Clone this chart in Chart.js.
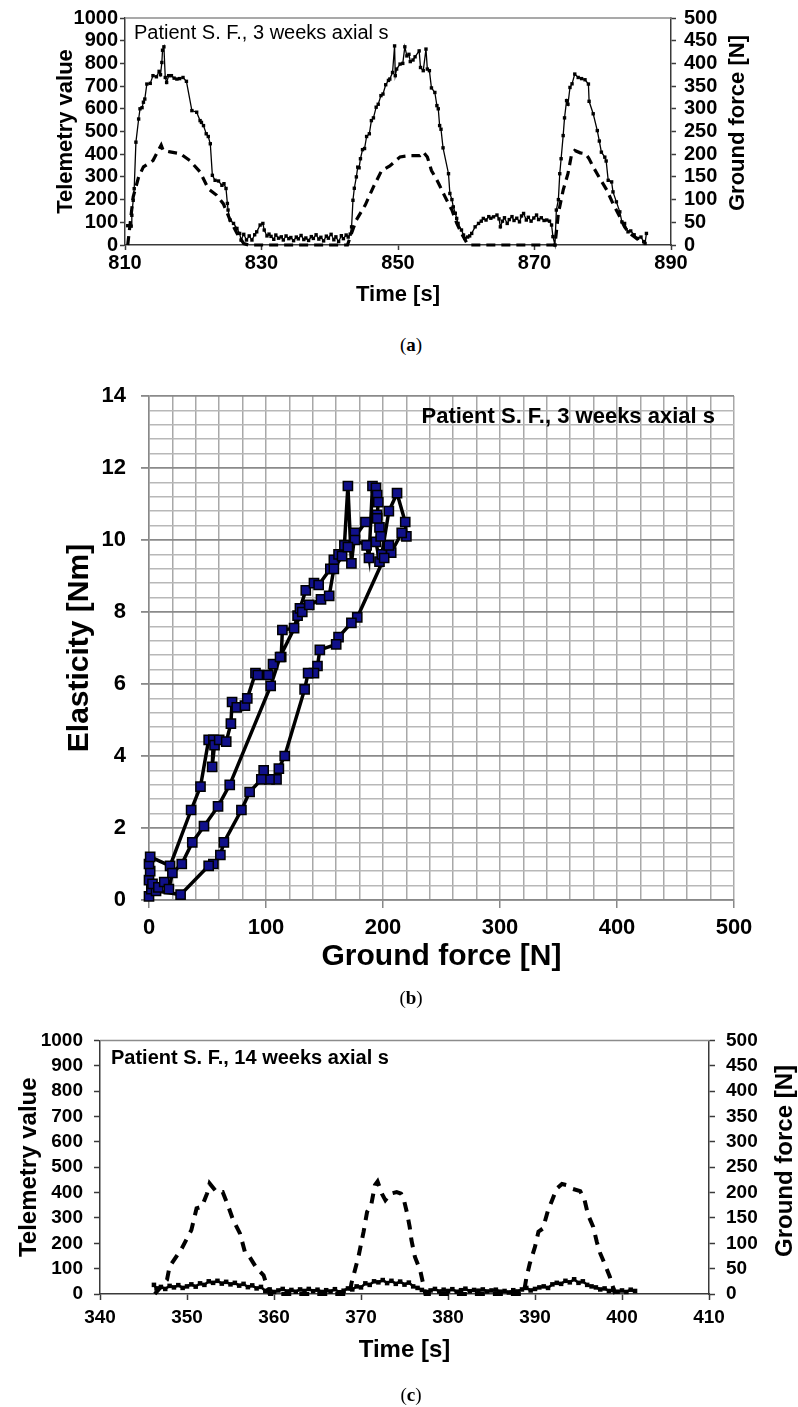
<!DOCTYPE html>
<html>
<head>
<meta charset="utf-8">
<script src="https://cdn.jsdelivr.net/npm/chart.js@4.4.1/dist/chart.umd.min.js"></script>
<style>
  body { margin: 0; background: #fff; width: 798px; height: 1407px; position: relative; overflow: hidden; }
  canvas { position: absolute; left: 0; }
  .cap { position: absolute; left: 12px; width: 798px; text-align: center; font-family: 'Liberation Serif', 'DejaVu Serif', serif; font-size: 19px; line-height: 22px; }
</style>
</head>
<body>
<canvas id="chartA" width="798" height="320" style="top:0px"></canvas>
<div class="cap" style="top:334px">(<b>a</b>)</div>
<canvas id="chartB" width="798" height="620" style="top:370px"></canvas>
<div class="cap" style="top:987px">(<b>b</b>)</div>
<canvas id="chartC" width="798" height="360" style="top:1020px"></canvas>
<div class="cap" style="top:1384px">(<b>c</b>)</div>
<script>
// --- (a) 3 weeks: [time s, telemetry value] and [time s, ground force N]
const telemetryA = [
  [810.4, 85], [810.9, 83], [811.0, 131], [811.2, 197], [811.35, 248], [811.6, 453], [812.0, 555], [812.2, 600],
  [812.5, 605], [812.7, 629], [812.9, 643], [813.2, 709], [813.7, 712], [814.1, 746], [814.6, 741], [815.0, 765],
  [815.2, 750], [815.4, 804], [815.5, 858], [815.7, 873], [815.9, 738], [816.1, 716], [816.4, 746], [816.8, 746],
  [817.2, 735], [817.6, 731], [818.0, 733], [818.5, 738], [819.0, 721], [819.8, 592], [820.5, 585], [821.0, 548],
  [821.2, 540], [821.5, 526], [821.9, 490], [822.2, 478], [822.5, 446], [822.8, 307], [823.2, 285], [823.7, 282],
  [824.2, 263], [824.5, 270], [824.8, 249], [825.0, 183], [825.1, 154], [825.4, 110], [825.9, 95], [826.4, 73],
  [826.8, 51], [827.0, 22], [827.4, 47], [827.8, 22], [828.2, 40], [828.6, 22], [829.0, 45], [829.3, 58],
  [829.8, 88], [830.2, 95], [830.4, 66], [830.8, 40], [831.1, 48],
  [831.4, 38], [831.8, 25], [832.1, 44], [832.5, 30], [832.9, 36], [833.2, 22], [833.6, 40], [834.0, 28],
  [834.3, 33], [834.7, 19], [835.1, 35], [835.4, 27], [835.8, 42], [836.2, 24], [836.5, 31], [836.9, 20],
  [837.3, 37], [837.6, 29], [838.0, 45], [838.4, 26], [838.7, 34], [839.1, 18], [839.5, 39], [839.8, 30],
  [840.2, 47], [840.6, 23], [840.9, 36], [841.3, 15], [841.7, 41], [842.0, 28], [842.4, 44], [842.7, 35], [843.0, 48],
  [843.2, 80], [843.4, 197], [843.6, 250], [843.9, 300], [844.1, 343], [844.3, 340], [844.5, 380], [844.8, 420],
  [845.1, 425], [845.4, 478], [845.8, 490], [846.1, 548], [846.4, 560], [846.8, 607], [847.1, 620], [847.5, 658],
  [847.8, 665], [848.2, 706], [848.6, 725], [848.8, 731], [849.2, 760], [849.5, 877], [849.6, 746], [849.8, 775],
  [850.3, 797], [850.7, 800], [851.0, 873], [851.3, 833], [851.6, 840], [851.8, 808], [852.2, 815], [852.5, 829],
  [853.1, 855], [853.3, 782], [853.7, 768], [854.1, 863], [854.3, 775], [854.6, 768], [854.9, 692], [855.4, 672],
  [855.7, 614], [855.9, 600], [856.1, 526], [856.3, 510], [856.6, 428], [857.4, 314], [857.6, 227], [857.9, 200],
  [858.1, 168], [858.4, 140], [858.6, 117], [858.8, 95], [859.3, 66], [859.6, 44], [859.8, 29], [860.2, 35],
  [860.5, 40], [860.8, 51], [861.3, 80], [861.8, 95], [862.2, 105], [862.5, 117], [862.9, 110], [863.3, 125],
  [863.6, 118], [864.0, 124], [864.5, 132], [864.8, 115], [865.0, 80], [865.3, 105], [865.6, 120], [866.0, 95],
  [866.3, 112], [866.7, 125], [867.0, 108], [867.4, 118], [867.8, 102], [868.1, 128], [868.4, 139], [868.8, 110],
  [869.1, 122], [869.5, 105], [869.9, 119], [870.3, 132], [870.6, 112], [871.0, 120], [871.4, 108], [871.8, 110],
  [872.2, 105], [872.5, 88], [872.7, 37], [873.0, 0], [873.2, 154], [873.5, 200], [873.7, 314], [873.9, 380],
  [874.2, 482], [874.4, 560], [874.7, 636], [874.9, 620], [875.2, 694], [875.5, 710], [875.9, 753], [876.4, 738],
  [876.9, 733], [877.4, 728], [877.9, 709], [878.0, 633], [878.6, 578], [879.2, 504], [879.5, 458], [879.8, 409],
  [880.3, 387], [880.5, 370], [880.8, 285], [881.3, 278], [881.5, 234], [882.0, 190], [882.5, 146], [882.8, 102],
  [883.2, 95], [883.7, 58], [884.1, 62], [884.6, 45], [885.1, 29], [885.6, 35], [886.0, 15], [886.2, 7], [886.4, 51]
];
const forceA = [
  [810.4, 0], [810.7, 40], [811.2, 106], [812.0, 150], [812.7, 172], [814.1, 186], [815.3, 220], [815.6, 208],
  [816.6, 205], [818.1, 201], [819.5, 186], [821.0, 161], [822.2, 124], [823.4, 110], [824.4, 91], [825.4, 55],
  [826.4, 26], [827.4, 3], [828.1, 0], [842.6, 0], [843.0, 18], [843.9, 55], [845.2, 88], [846.4, 128],
  [847.6, 164], [848.8, 174], [850.3, 194], [851.8, 197], [853.2, 197], [853.7, 205], [854.3, 194], [854.9, 164],
  [855.7, 143], [856.1, 131], [856.9, 106], [857.4, 91], [857.9, 77], [858.6, 48], [859.3, 26], [860.1, 4],
  [860.5, 0], [873.0, 0], [873.5, 70], [874.2, 121], [874.9, 157], [875.4, 197], [875.9, 208], [876.7, 203],
  [877.5, 201], [878.0, 190], [878.6, 172], [879.6, 146], [880.6, 121], [881.5, 91], [882.5, 62], [883.2, 40],
  [883.9, 26], [884.9, 15], [886.0, 4]
];
const timeRangeA = [810, 890];

// --- (b) elasticity vs ground force: [force N, elasticity Nm], in recording order
const elasticityB = [
  [0, 0.1], [2, 0.3], [0, 0.55], [1, 0.8], [0, 1.0], [1, 1.2], [18, 0.95], [36, 2.5], [44, 3.15], [51, 4.45],
  [55, 4.45], [54, 3.7], [56, 4.3], [60, 4.45], [66, 4.4], [70, 4.9], [71, 5.5], [75, 5.35], [82, 5.4], [84, 5.6],
  [91, 6.3], [93, 6.25], [102, 6.25], [106, 6.55], [113, 6.75], [114, 7.5], [124, 7.55], [127, 7.9], [129, 8.1],
  [134, 8.6], [141, 8.8], [145, 8.75], [155, 9.2], [158, 9.45], [162, 9.6], [167, 9.85], [170, 11.5], [173, 9.35],
  [176, 10.2], [176, 10.0], [186, 9.85], [188, 9.5], [191, 11.5], [194, 11.45], [195, 11.25], [196, 11.05],
  [195, 10.7], [197, 10.35], [194, 9.95], [197, 9.4], [199, 9.6], [205, 10.8], [212, 11.3], [219, 10.5],
  [220, 10.1], [216, 10.2], [207, 9.65], [205, 9.85], [201, 9.5],
  [178, 7.85], [173, 7.7], [162, 7.3], [160, 7.1], [146, 6.95], [144, 6.5], [141, 6.3], [136, 6.3], [133, 5.85],
  [116, 4.0], [111, 3.65], [109, 3.35], [103, 3.35], [98, 3.6], [96, 3.35], [86, 3.0], [79, 2.5], [64, 1.6],
  [61, 1.25], [55, 1.0], [51, 0.95], [27, 0.15], [6, 0.25],
  [3, 0.45], [8, 0.35], [13, 0.5], [17, 0.3], [20, 0.75], [28, 1.0], [37, 1.6], [47, 2.05], [59, 2.6], [69, 3.2],
  [104, 5.95], [112, 6.75], [131, 8.0], [137, 8.2], [147, 8.35], [154, 8.45], [158, 9.2], [165, 9.55], [170, 9.8],
  [185, 10.5], [195, 10.6], [198, 10.1]
];

// --- (c) 14 weeks: [time s, telemetry value] and [time s, ground force N]
const telemetryC = [
  [346.2, 36], [346.5, 22], [347.0, 28], [347.5, 20], [348.0, 32], [348.5, 26], [349.0, 35], [349.5, 24],
  [350.0, 30], [350.5, 38], [351.0, 29], [351.5, 42], [352.0, 36], [352.5, 50], [353.0, 44], [353.5, 52],
  [354.0, 41], [354.5, 48], [355.0, 38], [355.5, 44], [356.0, 33], [356.5, 40], [357.0, 27], [357.5, 34],
  [358.0, 22], [358.5, 28], [359.0, 12], [359.5, 18], [360.0, 8], [360.5, 14], [361.0, 20], [361.5, 10],
  [362.0, 16], [362.5, 9], [363.0, 18], [363.5, 12], [364.0, 20], [364.5, 11], [365.0, 17], [365.5, 8],
  [366.0, 15], [366.5, 10], [367.0, 19], [367.5, 7], [368.0, 13], [368.5, 22], [369.0, 18], [369.5, 30],
  [370.0, 26], [370.5, 42], [371.0, 36], [371.5, 50], [372.0, 46], [372.5, 55], [373.0, 43], [373.5, 52],
  [374.0, 40], [374.5, 49], [375.0, 37], [375.5, 45], [376.0, 30], [376.5, 24], [377.0, 16], [377.5, 8],
  [378.0, 14], [378.5, 20], [379.0, 10], [379.5, 17], [380.0, 12], [380.5, 19], [381.0, 9], [381.5, 15],
  [382.0, 21], [382.5, 11], [383.0, 16], [383.5, 13], [384.0, 18], [384.5, 10], [385.0, 14], [385.5, 17],
  [386.0, 9], [386.5, 12], [387.0, 6], [387.5, 15], [388.0, 10], [388.5, 18], [389.0, 24], [389.5, 14],
  [390.0, 20], [390.5, 26], [391.0, 30], [391.5, 24], [392.0, 38], [392.5, 44], [393.0, 40], [393.5, 52],
  [394.0, 46], [394.5, 58], [395.0, 44], [395.5, 50], [396.0, 36], [396.5, 30], [397.0, 26], [397.5, 18],
  [398.0, 22], [398.5, 12], [399.0, 16], [399.5, 9], [400.0, 14], [400.5, 8], [401.0, 17], [401.5, 12]
];
const forceC = [
  [346.3, 0], [347.7, 28], [348.0, 54], [349.4, 90], [350.5, 126], [351.1, 169], [351.7, 172], [352.3, 198],
  [352.6, 218], [353.4, 201], [354.1, 201], [354.7, 175], [355.3, 146], [356.1, 119], [356.7, 80], [357.2, 73],
  [358.0, 51], [358.8, 37], [359.5, 0], [368.7, 0], [368.9, 21], [369.7, 73], [370.3, 123], [370.7, 162],
  [371.2, 178], [371.6, 215], [371.9, 222], [372.4, 198], [372.8, 185], [373.4, 198], [374.1, 201], [374.6, 198],
  [374.9, 188], [375.3, 159], [375.6, 132], [375.8, 106], [376.2, 73], [376.8, 47], [377.4, 0], [388.7, 0],
  [389.0, 31], [389.4, 60], [390.0, 93], [390.4, 123], [390.9, 129], [391.5, 165], [391.9, 182], [392.5, 208],
  [393.1, 217], [393.6, 215], [394.2, 208], [395.2, 203], [395.7, 185], [396.1, 156], [396.7, 132], [397.1, 103],
  [397.5, 80], [398.0, 60], [398.6, 34], [399.2, 0]
];
const timeRangeC = [340, 410];

Chart.defaults.font.family = "'Liberation Sans', Arial, sans-serif";
Chart.defaults.color = '#000';

const AX = '#3a3a3a';
const pts = arr => arr.map(p => ({ x: p[0], y: p[1] }));
const fixW = w => s => { s.width = w; };
const fixH = h => s => { s.height = h; };
const onStep = (v, s) => Math.abs(v / s - Math.round(v / s)) < 1e-6;
const plain = v => String(v);

// free text (inner titles, right axis titles reading bottom-up) + top frame line
const extraText = {
  id: 'extraText',
  afterDraw(chart, args, opts) {
    const { ctx, chartArea: a } = chart;
    ctx.save();
    if (opts.frameTop) {
      ctx.strokeStyle = opts.frameTop;
      ctx.lineWidth = 1.5;
      ctx.beginPath();
      ctx.moveTo(a.left, a.top);
      ctx.lineTo(a.right, a.top);
      ctx.stroke();
    }
    (opts.items || []).forEach(t => {
      ctx.save();
      ctx.font = t.font;
      ctx.fillStyle = '#000';
      ctx.textAlign = t.align || 'left';
      ctx.textBaseline = 'middle';
      ctx.translate(t.x, t.y);
      if (t.rot) ctx.rotate(t.rot);
      ctx.fillText(t.text, 0, 0);
      ctx.restore();
    });
    ctx.restore();
  }
};
Chart.register(extraText);

function axisY(pos, max, step, width, size, tick, pad, title) {
  return {
    position: pos, min: 0, max: max, afterFit: fixW(width),
    ticks: { stepSize: step, autoSkip: false, padding: pad, callback: plain,
      font: { size: size, weight: 'bold', lineHeight: 1 } },
    grid: { drawOnChartArea: false, tickLength: tick, tickColor: AX, tickWidth: 1.5 },
    border: { color: AX, width: 1.5 },
    title: title
  };
}

function timeChart(id, tele, force, range, o) {
  return new Chart(document.getElementById(id), {
    type: 'line',
    data: {
      datasets: [
        { data: pts(tele), yAxisID: 'y', borderColor: '#000', borderWidth: o.lineW, tension: 0,
          pointStyle: 'rect', pointRadius: o.ptR, pointBackgroundColor: '#000', pointBorderWidth: 0, clip: false },
        { data: pts(force), yAxisID: 'y2', borderColor: '#000', borderWidth: o.dashW, borderDash: o.dash,
          tension: 0, pointRadius: 0, clip: false }
      ]
    },
    options: {
      responsive: false, animation: false,
      layout: { padding: { top: o.top, left: 0, right: 0, bottom: 0 } },
      plugins: { legend: { display: false }, tooltip: { enabled: false },
        extraText: { frameTop: '#8c8c8c', items: o.items } },
      scales: {
        x: {
          type: 'linear', min: range[0], max: range[1], afterFit: fixH(o.xH),
          ticks: { stepSize: o.xStep, autoSkip: false, maxRotation: 0, padding: o.xPad, callback: plain,
            font: { size: o.tickSize, weight: 'bold', lineHeight: 1 } },
          grid: { drawOnChartArea: false, tickLength: o.tick, tickColor: AX, tickWidth: 1.5 },
          border: { color: AX, width: 1.5 },
          title: { display: true, text: 'Time [s]', font: { size: o.titleSize, weight: 'bold' },
            padding: { top: 0, bottom: o.xTitlePad } }
        },
        y: axisY('left', 1000, 100, o.left, o.tickSize, o.tick, o.yPad,
          { display: true, text: 'Telemetry value', font: { size: o.titleSize, weight: 'bold' },
            padding: { top: o.yTitlePad, bottom: 0 } }),
        y2: axisY('right', 500, 50, o.right, o.tickSize, o.tick, o.y2Pad, { display: false })
      }
    }
  });
}

timeChart('chartA', telemetryA, forceA, timeRangeA, {
  top: 17, left: 125, right: 127, xH: 75, xStep: 20, tick: 5,
  tickSize: 20, titleSize: 22, xPad: 3, yPad: 2, y2Pad: 8, xTitlePad: 12, yTitlePad: 53,
  lineW: 1.3, ptR: 2.4, dashW: 3.2, dash: [9, 6],
  items: [
    { text: 'Patient S. F., 3 weeks axial s', x: 134, y: 33, font: "20px 'Liberation Sans'" },
    { text: 'Ground force [N]', x: 738, y: 123, font: "bold 22px 'Liberation Sans'", align: 'center', rot: -Math.PI / 2 }
  ]
});

timeChart('chartC', telemetryC, forceC, timeRangeC, {
  top: 20, left: 100, right: 89, xH: 86, xStep: 10, tick: 6,
  tickSize: 19, titleSize: 24, xPad: 8, yPad: 11, y2Pad: 11, xTitlePad: 15, yTitlePad: 15,
  lineW: 2.5, ptR: 3.2, dashW: 4, dash: [10, 8],
  items: [
    { text: 'Patient S. F., 14 weeks axial s', x: 111, y: 38, font: "bold 20px 'Liberation Sans'" },
    { text: 'Ground force [N]', x: 785, y: 141, font: "bold 24px 'Liberation Sans'", align: 'center', rot: -Math.PI / 2 }
  ]
});

// (b) scatter with connecting line on a fine grid
new Chart(document.getElementById('chartB'), {
  type: 'scatter',
  data: {
    datasets: [{
      data: pts(elasticityB), showLine: true, borderColor: '#000', borderWidth: 3.5, tension: 0,
      pointStyle: 'rect', pointRadius: 6.5, pointBackgroundColor: '#10108a', pointBorderColor: '#000',
      pointBorderWidth: 1.5, clip: false
    }]
  },
  options: {
    responsive: false, animation: false,
    layout: { padding: { top: 16, left: 0, right: 64, bottom: 0 } },
    plugins: { legend: { display: false }, tooltip: { enabled: false },
      extraText: { items: [
        { text: 'Patient S. F., 3 weeks axial s', x: 715, y: 47, font: "bold 22px 'Liberation Sans'", align: 'right' }
      ] } },
    scales: {
      x: {
        type: 'linear', min: 0, max: 500, afterFit: fixH(90),
        ticks: { stepSize: 20, autoSkip: false, maxRotation: 0, padding: 9,
          font: { size: 22, weight: 'bold', lineHeight: 1 },
          callback: v => onStep(v, 100) ? String(v) : '' },
        grid: { color: '#a8a8a8', lineWidth: 1.5, tickLength: 8,
          tickColor: c => onStep(c.tick.value, 100) ? '#888' : 'rgba(0,0,0,0)' },
        border: { color: '#888', width: 1.5 },
        title: { display: true, text: 'Ground force [N]', font: { size: 30, weight: 'bold' },
          padding: { top: 0, bottom: 15 } }
      },
      y: {
        min: 0, max: 14, afterFit: fixW(149),
        ticks: { stepSize: 0.4, autoSkip: false, padding: 15,
          font: { size: 22, weight: 'bold', lineHeight: 1 },
          callback: v => onStep(v, 2) ? String(Math.round(v)) : '' },
        grid: { color: c => onStep(c.tick.value, 2) ? '#8a8a8a' : '#b8b8b8',
          lineWidth: c => onStep(c.tick.value, 2) ? 1.8 : 1.5, tickLength: 8,
          tickColor: c => onStep(c.tick.value, 2) ? '#888' : 'rgba(0,0,0,0)' },
        border: { color: '#888', width: 1.5 },
        title: { display: true, text: 'Elasticity [Nm]', font: { size: 30, weight: 'bold' },
          padding: { top: 62, bottom: 0 } }
      }
    }
  }
});
</script>
</body>
</html>
